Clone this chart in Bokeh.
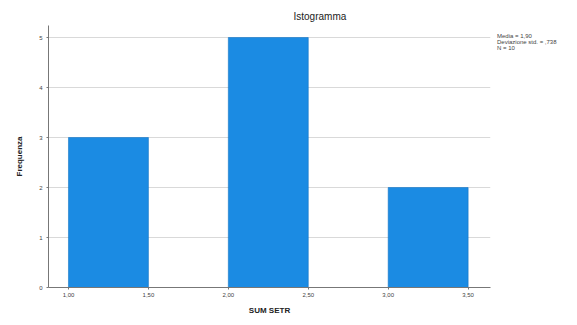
from bokeh.plotting import figure
from bokeh.embed import file_html
from bokeh.resources import INLINE
from bokeh.models import Range1d, FixedTicker, Div
from bokeh.layouts import row

bin_left = [1.0, 2.0, 3.0]
bin_right = [1.5, 2.5, 3.5]
freq = [3, 5, 2]
x_ticks = [1.0, 1.5, 2.0, 2.5, 3.0, 3.5]
x_tick_labels = ["1,00", "1,50", "2,00", "2,50", "3,00", "3,50"]
y_ticks = [0, 1, 2, 3, 4, 5]
stats = ["Media = 1,90", "Deviazione std. = ,738", "N = 10"]

W, H = 492, 317
FL, FB = 48, 287
p = figure(width=W, height=H, output_backend="svg", toolbar_location=None,
           x_range=Range1d(0.875, 3.64), y_range=Range1d(0, 5.24),
           min_border_left=FL, min_border_right=W - 490, min_border_top=25, min_border_bottom=H - FB)
p.title.text = "Istogramma"
p.title.align = "left"
p.title.offset = 245
p.title.text_font = "Liberation Sans"
p.title.text_font_size = "10px"
p.title.text_font_style = "normal"
p.title.text_color = "#222222"
p.title.standoff = 8

p.quad(left=bin_left, right=bin_right, top=freq, bottom=0,
       fill_color="#1b8be3", line_color="#1575c4", line_width=0.6)

p.xaxis.ticker = FixedTicker(ticks=x_ticks)
p.xaxis.major_label_overrides = {t: l for t, l in zip(x_ticks, x_tick_labels)}
p.yaxis.ticker = FixedTicker(ticks=y_ticks)
p.xaxis.axis_label = "SUM SETR"
p.yaxis.axis_label = "Frequenza"
for ax in (p.xaxis, p.yaxis):
    ax.axis_label_text_font = "Liberation Sans"
    ax.axis_label_text_font_size = "8px"
    ax.axis_label_text_font_style = "bold"
    ax.axis_label_text_color = "#222222"
    ax.major_label_text_font = "Liberation Sans"
    ax.major_label_text_font_size = "6px"
    ax.major_label_text_color = "#444444"
    ax.axis_line_color = "#777777"
    ax.major_tick_line_color = "#777777"
    ax.major_tick_in = 0
    ax.major_tick_out = 2
    ax.minor_tick_line_color = None
    ax.major_label_standoff = 4
p.xaxis.major_label_standoff = 3
p.xaxis.axis_label_standoff = 6
p.yaxis.axis_label_standoff = 12

p.xgrid.grid_line_color = None
p.ygrid.grid_line_color = "#d9d9d9"
p.ygrid.ticker = FixedTicker(ticks=y_ticks[1:])
p.outline_line_color = None

legend_div = Div(text="<br>".join(stats), width=78, height=40, margin=(33, 0, 0, 5),
                 styles={"font-family": "Liberation Sans", "font-size": "6px",
                         "line-height": "6px", "color": "#444444", "white-space": "nowrap"})

layout = row(p, legend_div)
open("out.html", "w").write(file_html(layout, INLINE))
